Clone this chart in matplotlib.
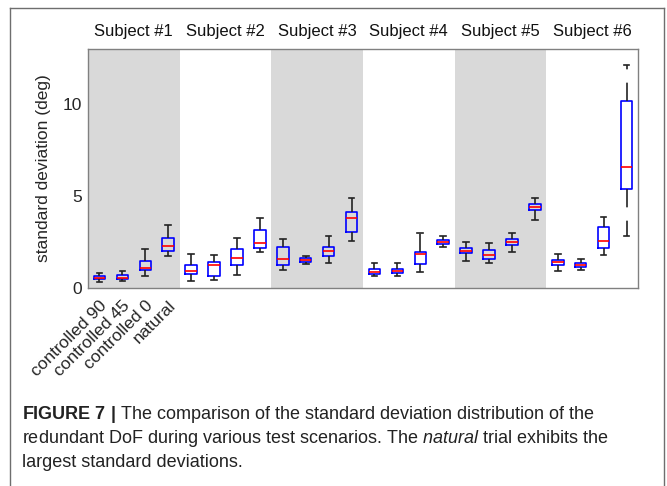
import matplotlib
matplotlib.use('Agg')
import matplotlib.pyplot as plt
from matplotlib.lines import Line2D

# font setup
cap_font = 'Liberation Sans'
plt.rcParams['font.family'] = ['Liberation Sans', 'DejaVu Sans']
plt.rcParams['mathtext.fontset'] = 'custom'
plt.rcParams['mathtext.rm'] = cap_font
plt.rcParams['mathtext.it'] = cap_font + ':italic'
plt.rcParams['mathtext.bf'] = cap_font + ':bold'

subjects = ['Subject #1', 'Subject #2', 'Subject #3', 'Subject #4', 'Subject #5', 'Subject #6']
conditions = ['controlled 90', 'controlled 45', 'controlled 0', 'natural']

# box stats, 4 per subject
whisker_hi = [0.83, 0.94, 2.13, 3.43,  1.85, 1.78, 2.74, 3.80,  2.68, 1.74, 2.84, 4.92,
              1.35, 1.36, 3.00, 2.83,  2.50, 2.47, 2.98, 4.92,  1.85, 1.60, 3.85, 12.13]
q3 = [0.66, 0.71, 1.45, 2.72,  1.26, 1.40, 2.10, 3.18,  2.25, 1.63, 2.22, 4.12,
      1.01, 1.03, 1.97, 2.63,  2.16, 2.05, 2.65, 4.57,  1.53, 1.36, 3.32, 10.17]
median = [0.57, 0.57, 1.09, 2.29,  0.92, 1.23, 1.65, 2.43,  1.58, 1.53, 2.01, 3.80,
          0.89, 0.92, 1.86, 2.52,  2.03, 1.79, 2.50, 4.40,  1.42, 1.26, 2.57, 6.59]
q1 = [0.48, 0.48, 0.96, 2.03,  0.76, 0.67, 1.25, 2.16,  1.25, 1.42, 1.74, 3.03,
      0.76, 0.80, 1.31, 2.41,  1.88, 1.56, 2.34, 4.23,  1.26, 1.12, 2.20, 5.38]
whisker_lo = [0.31, 0.38, 0.67, 1.76,  0.39, 0.46, 0.71, 1.96,  0.99, 1.31, 1.38, 2.56,
              0.64, 0.66, 0.85, 2.23,  1.47, 1.38, 1.96, 3.70,  0.92, 0.99, 1.79, 2.83]

stats = []
for i in range(len(median)):
    stats.append({'whislo': whisker_lo[i], 'q1': q1[i], 'med': median[i],
                  'q3': q3[i], 'whishi': whisker_hi[i], 'fliers': []})

fig = plt.figure(figsize=(6.67, 4.86), dpi=100)
ax = fig.add_axes([88/667, 1-288/486, 550/667, 239/486])

# shaded bands for odd subjects
for k in range(0, 6, 2):
    ax.axvspan(4*k + 0.5, 4*k + 4.5, color='#d9d9d9', lw=0, zorder=0)

positions = list(range(1, len(median) + 1))
ax.bxp(stats, positions=positions, widths=0.5, capwidths=0.25,
       boxprops=dict(color='#0000ff', lw=1.2),
       medianprops=dict(color='#ff0000', lw=1.2),
       whiskerprops=dict(color='#222222', lw=1.2, linestyle=(0, (11, 8))),
       capprops=dict(color='#222222', lw=1.2),
       manage_ticks=False, zorder=3)

ax.set_xlim(0.5, 24.5)
ax.set_ylim(0, 13)
ax.set_yticks([0, 5, 10])
ax.set_xticks([1, 2, 3, 4])
ax.set_xticklabels(conditions, rotation=45, ha='right', va='top',
                   rotation_mode='anchor', fontsize=12.5, color='#262626')
ax.tick_params(axis='both', length=0, labelsize=12.5, labelcolor='#262626')
ax.tick_params(axis='y', pad=4)
ax.tick_params(axis='x', pad=7)
ax.set_ylabel('standard deviation (deg)', fontsize=12.5, color='#262626', labelpad=9)
for s in ax.spines.values():
    s.set_color('#808080')
    s.set_linewidth(1.0)

for k, name in enumerate(subjects):
    ax.text(4*k + 2.5, 1.075, name, transform=ax.get_xaxis_transform(),
            ha='center', va='center', fontsize=12, color='#111111')

# figure frame
frame_col = '#6e6e6e'
fig.add_artist(Line2D([10/667, 10/667], [0, 1-8/486], color=frame_col, lw=1.0))
fig.add_artist(Line2D([664/667, 664/667], [0, 1-8/486], color=frame_col, lw=1.0))
fig.add_artist(Line2D([10/667, 664/667], [1-8/486, 1-8/486], color=frame_col, lw=1.0))

# caption
cap_lines = [r'$\mathbf{FIGURE\ 7\ |}$ The comparison of the standard deviation distribution of the',
             r'redundant DoF during various test scenarios. The $\mathit{natural}$ trial exhibits the',
             'largest standard deviations.']
baselines = [419, 443, 467]
for line, yb in zip(cap_lines, baselines):
    fig.text(22/667, 1 - yb/486, line, ha='left', va='baseline',
             fontsize=13, color='#222222', family=cap_font)

fig.savefig('out.png', dpi=100)
